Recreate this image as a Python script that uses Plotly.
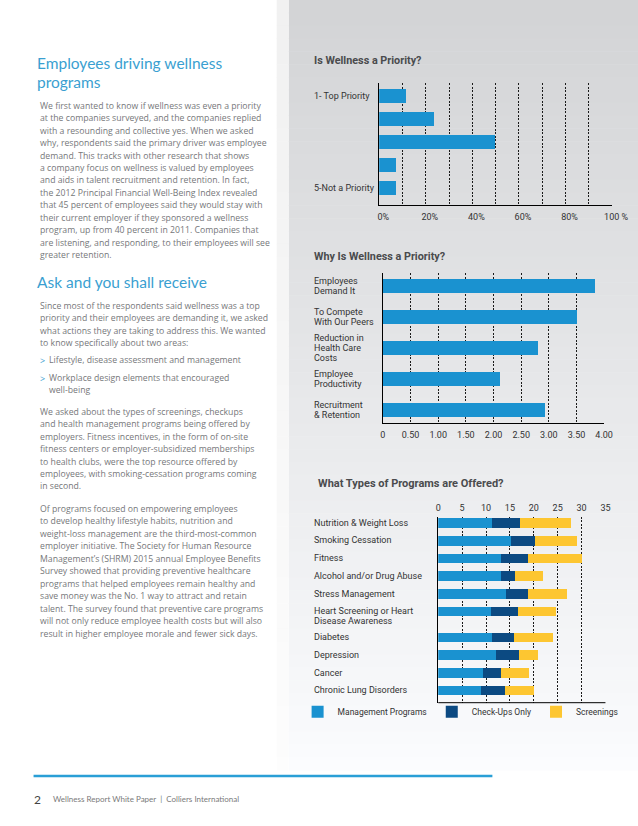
import plotly.graph_objects as go

W, H = 638, 826          # design coordinates (reference pixels)
FIG_W = 654              # figure width (the capture is squeezed back to 638)

# ---------------- data ----------------
# Chart 1: Is Wellness a Priority?
priority_levels = ["1- Top Priority", "2", "3", "4", "5-Not a Priority"]
priority_labels = ["1- Top Priority", "", "", "", "5-Not a Priority"]
priority_pct = [11.5, 23.5, 50.0, 7.5, 7.5]
pct_tickvals = [0, 10, 20, 30, 40, 50, 60, 70, 80, 90, 100]
pct_ticktext = ["0%", "", "20%", "", "40%", "", "60%", "", "80%", "", "100 %"]

# Chart 2: Why Is Wellness a Priority?
reasons = ["Employees<br>Demand It", "To Compete<br>With Our Peers",
           "Reduction in<br>Health Care<br>Costs", "Employee<br>Productivity",
           "Recruitment<br>& Retention"]
reason_scores = [3.84, 3.51, 2.80, 2.12, 2.92]
score_tickvals = [0, 0.5, 1.0, 1.5, 2.0, 2.5, 3.0, 3.5, 4.0]
score_ticktext = ["0", "0.50", "1.00", "1.50", "2.00", "2.50", "3.00", "3.50", "4.00"]

# Chart 3: What Types of Programs are Offered?
programs = ["Nutrition & Weight Loss", "Smoking Cessation", "Fitness",
            "Alcohol and/or Drug Abuse", "Stress Management",
            "Heart Screening or Heart<br>Disease Awareness", "Diabetes",
            "Depression", "Cancer", "Chronic Lung Disorders"]
management = [11.2, 15.3, 13.1, 13.1, 14.2, 11.0, 11.2, 12.2, 9.4, 9.1]
checkups = [6.0, 5.0, 5.7, 3.1, 4.7, 5.7, 4.7, 4.8, 3.7, 5.0]
screenings = [10.7, 8.7, 11.3, 5.8, 8.0, 8.0, 8.1, 4.0, 6.0, 6.0]
series_names = ["Management Programs", "Check-Ups Only", "Screenings"]
prog_tickvals = [0, 5, 10, 15, 20, 25, 30, 35]

# Text content
heading1 = ["Employees driving wellness", "programs"]
para1 = [
    "We first wanted to know if wellness was even a priority",
    "at the companies surveyed, and the companies replied",
    "with a resounding and collective yes. When we asked",
    "why, respondents said the primary driver was employee",
    "demand. This tracks with other research that shows",
    "a company focus on wellness is valued by employees",
    "and aids in talent recruitment and retention. In fact,",
    "the 2012 Principal Financial Well-Being Index revealed",
    "that 45 percent of employees said they would stay with",
    "their current employer if they sponsored a wellness",
    "program, up from 40 percent in 2011. Companies that",
    "are listening, and responding, to their employees will see",
    "greater retention.",
]
heading2 = "Ask and you shall receive"
para2 = [
    "Since most of the respondents said wellness was a top",
    "priority and their employees are demanding it, we asked",
    "what actions they are taking to address this. We wanted",
    "to know specifically about two areas:",
]
bullets = [
    ["Lifestyle, disease assessment and management"],
    ["Workplace design elements that encouraged", "well-being"],
]
para3 = [
    "We asked about the types of screenings, checkups",
    "and health management programs being offered by",
    "employers. Fitness incentives, in the form of on-site",
    "fitness centers or employer-subsidized memberships",
    "to health clubs, were the top resource offered by",
    "employees, with smoking-cessation programs coming",
    "in second.",
]
para4 = [
    "Of programs focused on empowering employees",
    "to develop healthy lifestyle habits, nutrition and",
    "weight-loss management are the third-most-common",
    "employer initiative. The Society for Human Resource",
    "Management\u2019s (SHRM) 2015 annual Employee Benefits",
    "Survey showed that providing preventive healthcare",
    "programs that helped employees remain healthy and",
    "save money was the No. 1 way to attract and retain",
    "talent. The survey found that preventive care programs",
    "will not only reduce employee health costs but will also",
    "result in higher employee morale and fewer sick days.",
]
footer_num = "2"
footer_text = "Wellness Report White Paper  |  Colliers International"

# ---------------- style ----------------
BLUE = "#1a92d0"
NAVY = "#0c4a82"
YELLOW = "#fdc631"
HEAD_BLUE = "#3a9fd1"
BODY = "#76777a"
DARK = "#333333"
CHART_FONT = "Roboto"
BODY_FONT = "Open Sans"
GRID_DASH = "2px,1.5px"
XS = -3   # compensate annotation inner padding


def px(x):
    return x / W


def py(y):
    return 1 - y / H


fig = go.Figure()

# Chart 1 bars
fig.add_trace(go.Bar(y=priority_levels, x=priority_pct, orientation="h",
                     marker=dict(color=BLUE, line=dict(width=0)), width=0.6,
                     xaxis="x", yaxis="y", showlegend=False))
# Chart 2 bars
fig.add_trace(go.Bar(y=reasons, x=reason_scores, orientation="h",
                     marker=dict(color=BLUE, line=dict(width=0)), width=0.43,
                     xaxis="x2", yaxis="y2", showlegend=False))

# Chart 3 row positions (extra room after multi-line labels)
prog_pos = []
acc = 0.0
for lab in programs:
    prog_pos.append(acc)
    acc += 1 + 0.47 * lab.count("<br>")

for name, vals, col in zip(series_names, [management, checkups, screenings],
                           [BLUE, NAVY, YELLOW]):
    fig.add_trace(go.Bar(y=prog_pos, x=vals, orientation="h", name=name,
                         marker=dict(color=col, line=dict(width=0)), width=0.55,
                         xaxis="x3", yaxis="y3"))

grid = dict(showgrid=True, gridcolor="#1a1a1a", griddash=GRID_DASH, gridwidth=0.8,
            zeroline=False, ticks="", tickfont=dict(family=CHART_FONT, size=9, color=DARK))

fig.update_layout(
    width=FIG_W, height=H, margin=dict(l=0, r=0, t=0, b=0), autosize=False,
    paper_bgcolor="white", plot_bgcolor="rgba(0,0,0,0)",
    barmode="stack", bargap=0,
    font=dict(family=CHART_FONT, color=DARK),
    xaxis=dict(domain=[px(378), px(612)], range=[0, 100], tickvals=pct_tickvals,
               ticktext=pct_ticktext, showline=True, linecolor="black", linewidth=1,
               anchor="y", ticklabelshift=4, ticklabelstandoff=3, **grid),
    yaxis=dict(domain=[py(205), py(83)], type="category",
               categoryorder="array", categoryarray=priority_levels,
               range=[4.74, -0.565], showline=True, linecolor="black", linewidth=1,
               showticklabels=False, showgrid=False, zeroline=False, anchor="x"),
    xaxis2=dict(domain=[px(381.7), px(604)], range=[0, 4], tickvals=score_tickvals,
                ticktext=score_ticktext, showline=True, linecolor="black", linewidth=1,
                anchor="y2", ticklabelstandoff=3, **grid),
    yaxis2=dict(domain=[py(422.7), py(273)], type="category",
                categoryorder="array", categoryarray=reasons,
                range=[4.41, -0.42], showline=True, linecolor="black", linewidth=1,
                showticklabels=False, showgrid=False, zeroline=False, anchor="x2"),
    xaxis3=dict(domain=[px(437.3), px(605.3)], range=[0, 35], tickvals=prog_tickvals,
                side="top", showline=False, anchor="y3", ticklabelstandoff=3, **grid),
    yaxis3=dict(domain=[py(702.7), py(516.7)], range=[10.17, -0.34],
                showline=True, linecolor="black", linewidth=1,
                showticklabels=False, showgrid=False, zeroline=False, anchor="x3"),
    legend=dict(orientation="h", x=px(296), y=py(711.7), xanchor="left", yanchor="middle",
                font=dict(family=CHART_FONT, size=8.5, color=DARK),
                bgcolor="rgba(0,0,0,0)", itemwidth=30, traceorder="normal"),
)

shapes = []
# grey panel gradient
N = 60
y_end = 770
for i in range(N):
    t = i / (N - 1)
    c = int(211 + (251 - 211) * t)
    c2 = int(241 + (253 - 241) * t)
    y0 = y_end * i / N
    y1 = y_end * (i + 1) / N + 0.5
    shapes.append(dict(type="rect", xref="paper", yref="paper", x0=px(287), x1=1,
                       y0=py(y1), y1=py(y0), line=dict(width=0),
                       fillcolor=f"rgb({c},{c+1},{min(c+3,255)})", layer="below"))
    shapes.append(dict(type="rect", xref="paper", yref="paper", x0=px(275), x1=px(287),
                       y0=py(y1), y1=py(y0), line=dict(width=0),
                       fillcolor=f"rgb({c2},{c2},{c2})", layer="below"))
# bottom axis line for chart 3
shapes.append(dict(type="line", xref="x3 domain", yref="y3 domain", x0=0, x1=1, y0=0, y1=0,
                   line=dict(color="black", width=1)))
# footer rule
shapes.append(dict(type="line", xref="paper", yref="paper", x0=px(30.7), x1=px(491.7),
                   y0=py(776), y1=py(776), line=dict(color="#2a9fd6", width=2.5)))
fig.update_layout(shapes=shapes)

ann = []


def text(x, y, s, size, color, family=BODY_FONT, bold=False):
    ann.append(dict(x=px(x), y=py(y), xref="paper", yref="paper",
                    text=(f"<b>{s}</b>" if bold else s), xshift=XS,
                    showarrow=False, xanchor="left", yanchor="middle", align="left",
                    font=dict(family=family, size=size, color=color)))


# chart titles
text(313, 61, "Is Wellness a Priority?", 10.8, "#4a4b4d", CHART_FONT, True)
text(313, 256, "Why Is Wellness a Priority?", 10.8, "#4a4b4d", CHART_FONT, True)
text(317, 483, "What Types of Programs are Offered?", 11, "#4a4b4d", CHART_FONT, True)

# axis category labels (left aligned)
LINE = 10
LAB = 9
for cat, lab in zip(priority_levels, priority_labels):
    if lab:
        ann.append(dict(x=px(313), xref="paper", y=cat, yref="y", text=lab, showarrow=False,
                        xanchor="left", yanchor="middle", xshift=XS,
                        font=dict(family=CHART_FONT, size=LAB, color=DARK)))
for cat in reasons:
    lines = cat.split("<br>")
    n = len(lines)
    for k, ln in enumerate(lines):
        ann.append(dict(x=px(313), xref="paper", y=cat, yref="y2", text=ln, showarrow=False,
                        xanchor="left", yanchor="middle", xshift=XS,
                        yshift=((n - 1) / 2 - k) * LINE,
                        font=dict(family=CHART_FONT, size=LAB, color=DARK)))
for pos, lab in zip(prog_pos, programs):
    for k, ln in enumerate(lab.split("<br>")):
        ann.append(dict(x=px(313), xref="paper", y=pos, yref="y3", text=ln, showarrow=False,
                        xanchor="left", yanchor="middle", xshift=XS, yshift=-k * LINE,
                        font=dict(family=CHART_FONT, size=LAB, color=DARK)))

# left column text
text(35, 62.7, heading1[0], 15.5, HEAD_BLUE, "Lato")
text(35, 81.7, heading1[1], 15.5, HEAD_BLUE, "Lato")
LS = 12.45
BS = 8.7
for i, ln in enumerate(para1):
    text(38, 105.7 + i * LS, ln, BS, BODY)
text(35, 281.7, heading2, 15.5, HEAD_BLUE, "Lato")
for i, ln in enumerate(para2):
    text(38, 305.7 + i * LS, ln, BS, BODY)
bullet_y = [360, 378.3]
for by, blines in zip(bullet_y, bullets):
    text(38, by, "&gt;", 9, HEAD_BLUE)
    for k, ln in enumerate(blines):
        text(47, by + k * 11.2, ln, BS, BODY)
for i, ln in enumerate(para3):
    text(38, 411.7 + i * LS, ln, BS, BODY)
for i, ln in enumerate(para4):
    text(38, 509 + i * LS, ln, BS, BODY)

# footer
text(32, 799.3, footer_num, 12, "#444444", "Lato")
text(51, 799.3, footer_text, 8, "#7a7a7a", "Lato")

fig.update_layout(annotations=ann)
fig.write_html(
    "out.html",
    config={"displayModeBar": False, "responsive": False},
    post_script=("document.documentElement.style.margin='0';"
                 "document.documentElement.style.overflow='hidden';"
                 "document.body.style.margin='0';"
                 "document.body.style.overflow='hidden';"),
)
